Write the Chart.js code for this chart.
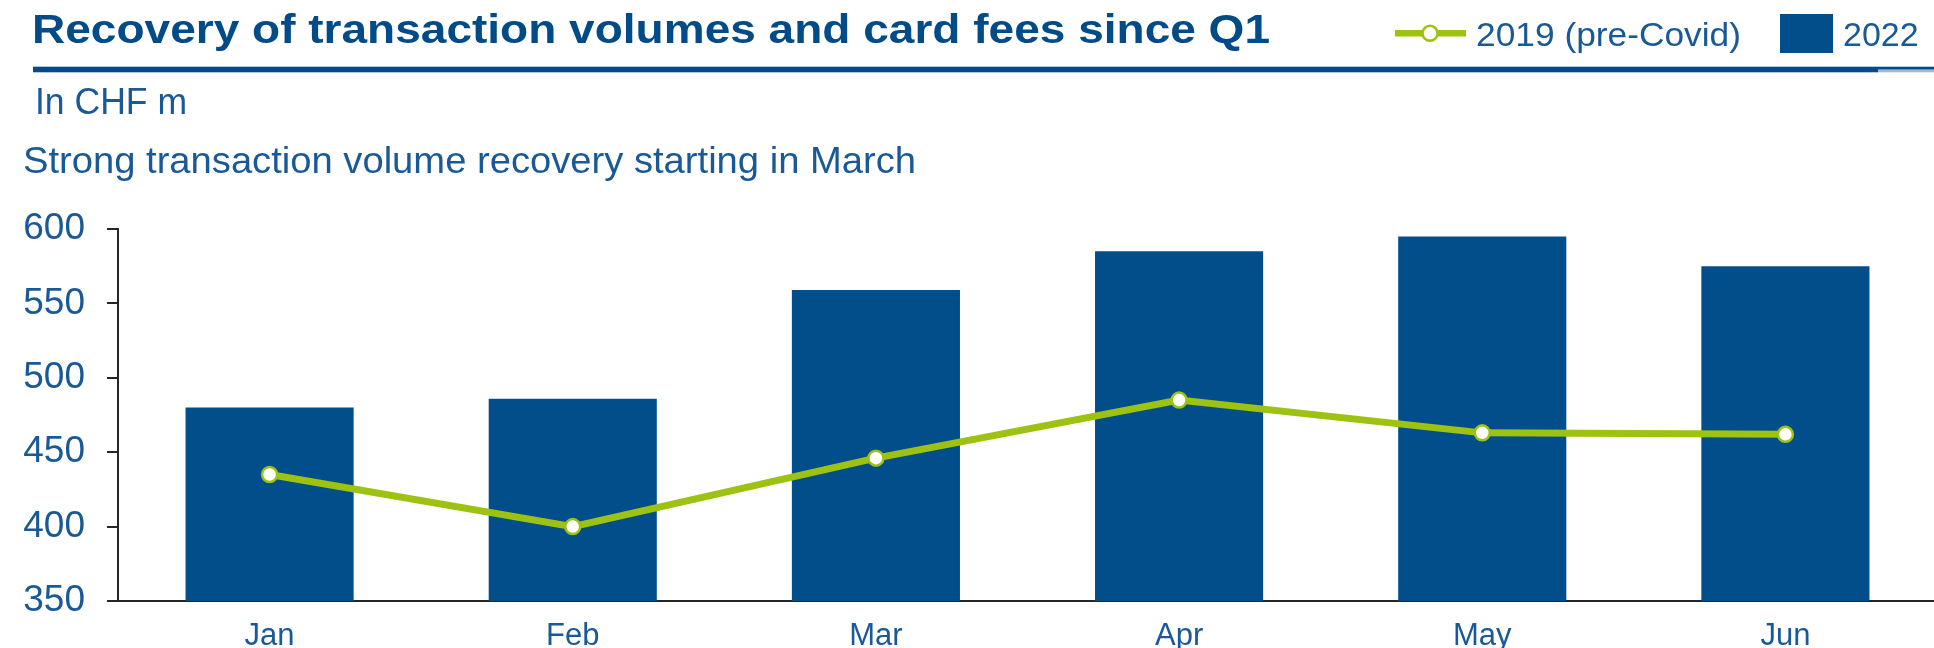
<!DOCTYPE html>
<html>
<head>
<meta charset="utf-8">
<script src="https://cdn.jsdelivr.net/npm/chart.js@4.4.1/dist/chart.umd.min.js"></script>
<style>
  html, body { margin: 0; padding: 0; background: #ffffff; overflow: hidden; }
  #wrap { position: absolute; left: 0; top: 0; width: 1947px; height: 648px; }
</style>
</head>
<body>
<div id="wrap"><canvas id="c"></canvas></div>
<script>
// ---- data ----
const months = ["Jan", "Feb", "Mar", "Apr", "May", "Jun"];
const values2022 = [480, 486, 559, 585, 595, 575];
const values2019 = [435, 400, 446, 485, 463, 462];
const yTicks = [350, 400, 450, 500, 550, 600];
const titleText = "Recovery of transaction volumes and card fees since Q1";
const unitText = "In CHF m";
const subtitleText = "Strong transaction volume recovery starting in March";
const legendLineLabel = "2019 (pre-Covid)";
const legendBarLabel = "2022";

// ---- styles ----
const DARK_BLUE = "#004B88";
const BAR_BLUE = "#014E8A";
const TEXT_BLUE = "#1A5997";
const GREEN = "#9DC212";
const AXIS = "#262626";
const FONT = "'Liberation Sans', Arial, sans-serif";

// draw text with given font size, adjusted horizontally to a target width
function drawFitted(ctx, text, x, baseline, weight, size, targetWidth) {
  ctx.font = weight + " " + size + "px " + FONT;
  const w = ctx.measureText(text).width;
  const sx = Math.min(1.15, targetWidth / w);
  ctx.save();
  ctx.translate(x, baseline);
  ctx.scale(sx, 1);
  ctx.fillText(text, 0, 0);
  ctx.restore();
}

const headerPlugin = {
  id: "header",
  afterDraw(chart) {
    const ctx = chart.ctx;
    ctx.save();
    ctx.textBaseline = "alphabetic";
    ctx.textAlign = "left";
    // title
    ctx.fillStyle = DARK_BLUE;
    drawFitted(ctx, titleText, 32, 43, "bold", 41, 1238);
    // rule
    ctx.fillRect(33, 66.7, 1878 - 33, 5.6);
    ctx.fillRect(1878, 66.7, 2000, 3);
    ctx.fillStyle = "#9DB9D6";
    ctx.fillRect(1878, 69.7, 2000, 2.6);
    // unit + subtitle
    ctx.fillStyle = TEXT_BLUE;
    drawFitted(ctx, unitText, 35, 114, "normal", 36, 152);
    drawFitted(ctx, subtitleText, 23, 173, "normal", 36, 893);
    // legend: line + marker
    ctx.strokeStyle = GREEN;
    ctx.lineWidth = 6.5;
    ctx.beginPath();
    ctx.moveTo(1395, 33.3);
    ctx.lineTo(1466, 33.3);
    ctx.stroke();
    ctx.beginPath();
    ctx.arc(1430, 33.3, 7.5, 0, Math.PI * 2);
    ctx.fillStyle = "#ffffff";
    ctx.fill();
    ctx.lineWidth = 2.5;
    ctx.stroke();
    ctx.fillStyle = TEXT_BLUE;
    drawFitted(ctx, legendLineLabel, 1476, 45.5, "normal", 34, 265);
    // legend: bar square
    ctx.fillStyle = BAR_BLUE;
    ctx.fillRect(1780, 14, 53, 39);
    ctx.fillStyle = TEXT_BLUE;
    ctx.font = "normal 34px " + FONT;
    ctx.fillText(legendBarLabel, 1843, 45.5);
    ctx.restore();
  }
};

new Chart(document.getElementById("c"), {
  data: {
    labels: months,
    datasets: [
      {
        type: "line",
        label: legendLineLabel,
        data: values2019,
        order: 0,
        borderColor: GREEN,
        borderWidth: 7,
        tension: 0,
        pointRadius: 7.5,
        pointBorderWidth: 2.5,
        pointBackgroundColor: "#ffffff",
        pointBorderColor: GREEN,
        fill: false
      },
      {
        type: "bar",
        label: legendBarLabel,
        data: values2022,
        order: 1,
        backgroundColor: BAR_BLUE,
        borderWidth: 0,
        barPercentage: 0.5545,
        categoryPercentage: 1.0
      }
    ]
  },
  options: {
    responsive: true,
    maintainAspectRatio: false,
    animation: false,
    events: [],
    layout: { padding: { top: 229, left: 0, right: 0, bottom: 0 } },
    plugins: {
      legend: { display: false },
      tooltip: { enabled: false },
      title: { display: false }
    },
    scales: {
      x: {
        type: "category",
        offset: true,
        grid: { drawOnChartArea: false, drawTicks: false },
        border: { display: true, color: AXIS, width: 2 },
        ticks: {
          color: TEXT_BLUE,
          font: { family: FONT, size: 31 },
          padding: 17,
          maxRotation: 0,
          autoSkip: false
        },
        afterFit(scale) { scale.height = 47; }
      },
      y: {
        min: 350,
        max: 600,
        afterBuildTicks(scale) { scale.ticks = yTicks.map(v => ({ value: v })); },
        grid: { drawOnChartArea: false, drawTicks: true, tickLength: 11, color: AXIS, lineWidth: 2 },
        border: { display: true, color: AXIS, width: 2 },
        ticks: {
          color: TEXT_BLUE,
          font: { family: FONT, size: 37 },
          padding: 22
        },
        afterFit(scale) { scale.width = 118; }
      }
    }
  },
  plugins: [headerPlugin]
});
</script>
</body>
</html>
